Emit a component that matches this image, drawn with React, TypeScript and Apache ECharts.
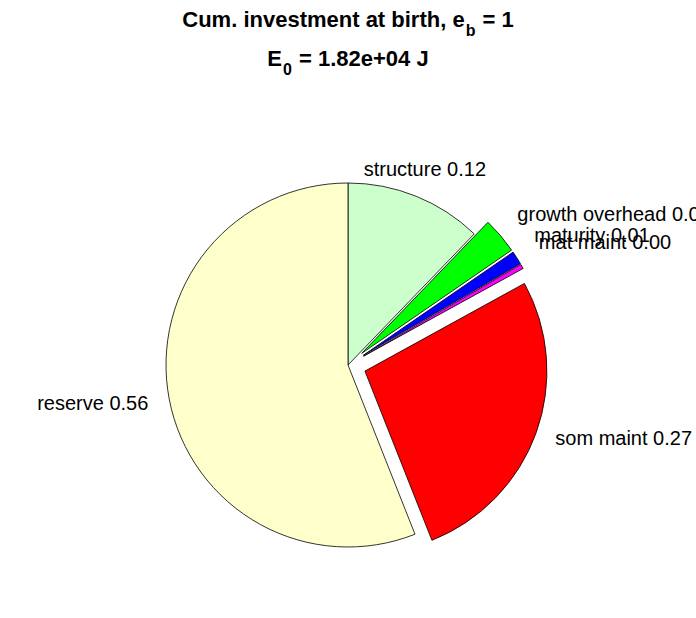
import React, { useEffect, useRef } from "react";
import * as echarts from "echarts";

const categories = ["structure", "growth overhead", "maturity", "mat maint", "som maint", "reserve"];
const fractions = [0.122, 0.032, 0.012, 0.004, 0.27, 0.56];
const exploded = [false, true, true, true, true, false];
const sliceColors = ["#ccffcc", "#00ff00", "#0000ff", "#ff00ff", "#ff0000", "#ffffcc"];
const titleLine1 = ["Cum. investment at birth, e", "b", " = 1"];
const titleLine2 = ["E", "0", " = 1.82e+04 J"];

const labelAlign = ["center", "left", "left", "left", "left", "right"];
const labelVAlign = ["bottom", "bottom", "bottom", "bottom", "middle", "middle"];
const labelDx = [2, 3, 2, 1, 2, -3];
const labelDy = [0, 0, -3, -5, -1, 0];

const FONT = "'Liberation Sans', Arial, Helvetica, sans-serif";

export default function App() {
  const ref = useRef<HTMLDivElement>(null);
  useEffect(() => {
    if (!ref.current) return;
    const chart = echarts.init(ref.current, null, { renderer: "svg" });
    const R = 182;
    chart.setOption({
      animation: false,
      backgroundColor: "#ffffff",
      title: {
        left: "center",
        top: 0,
        padding: 0,
        text:
          `{t|${titleLine1[0]}}{s|${titleLine1[1]}}{t|${titleLine1[2]}}\n` +
          `{t|${titleLine2[0]}}{s|${titleLine2[1]}}{t|${titleLine2[2]}}`,
        textStyle: {
          rich: {
            t: { fontSize: 22, fontWeight: "bold", fontFamily: FONT, color: "#000", lineHeight: 39, verticalAlign: "middle" },
            s: { fontSize: 16, fontWeight: "bold", fontFamily: FONT, color: "#000", lineHeight: 39, verticalAlign: "middle", padding: [22, 1, 0, 1] },
          },
        },
      },
      series: [
        {
          type: "pie",
          center: [348, 365],
          radius: R,
          startAngle: 90,
          clockwise: true,
          selectedMode: "multiple",
          selectedOffset: 18,
          avoidLabelOverlap: false,
          emphasis: { disabled: true },
          itemStyle: { borderColor: "#000", borderWidth: 0.8 },
          select: { itemStyle: { borderColor: "#000", borderWidth: 0.8 } },
          label: {
            show: true,
            position: "outside",
            fontSize: 20,
            fontFamily: FONT,
            color: "#000",
            distanceToLabelLine: 0,
            formatter: (p: any) => `${p.name} ${p.value.toFixed(2)}`,
          },
          labelLine: { show: false, length: R * 0.1, length2: 0 },
          labelLayout: (p: any) => ({
            align: labelAlign[p.dataIndex],
            verticalAlign: labelVAlign[p.dataIndex],
            dx: labelDx[p.dataIndex],
            dy: labelDy[p.dataIndex],
          }),
          data: categories.map((name, i) => ({
            name,
            value: fractions[i],
            selected: exploded[i],
            itemStyle: { color: sliceColors[i] },
          })),
        },
      ],
    });
    return () => chart.dispose();
  }, []);
  return (
    <div
      ref={ref}
      style={{ position: "fixed", left: 0, top: 0, width: 696, height: 618, background: "#fff" }}
    />
  );
}
